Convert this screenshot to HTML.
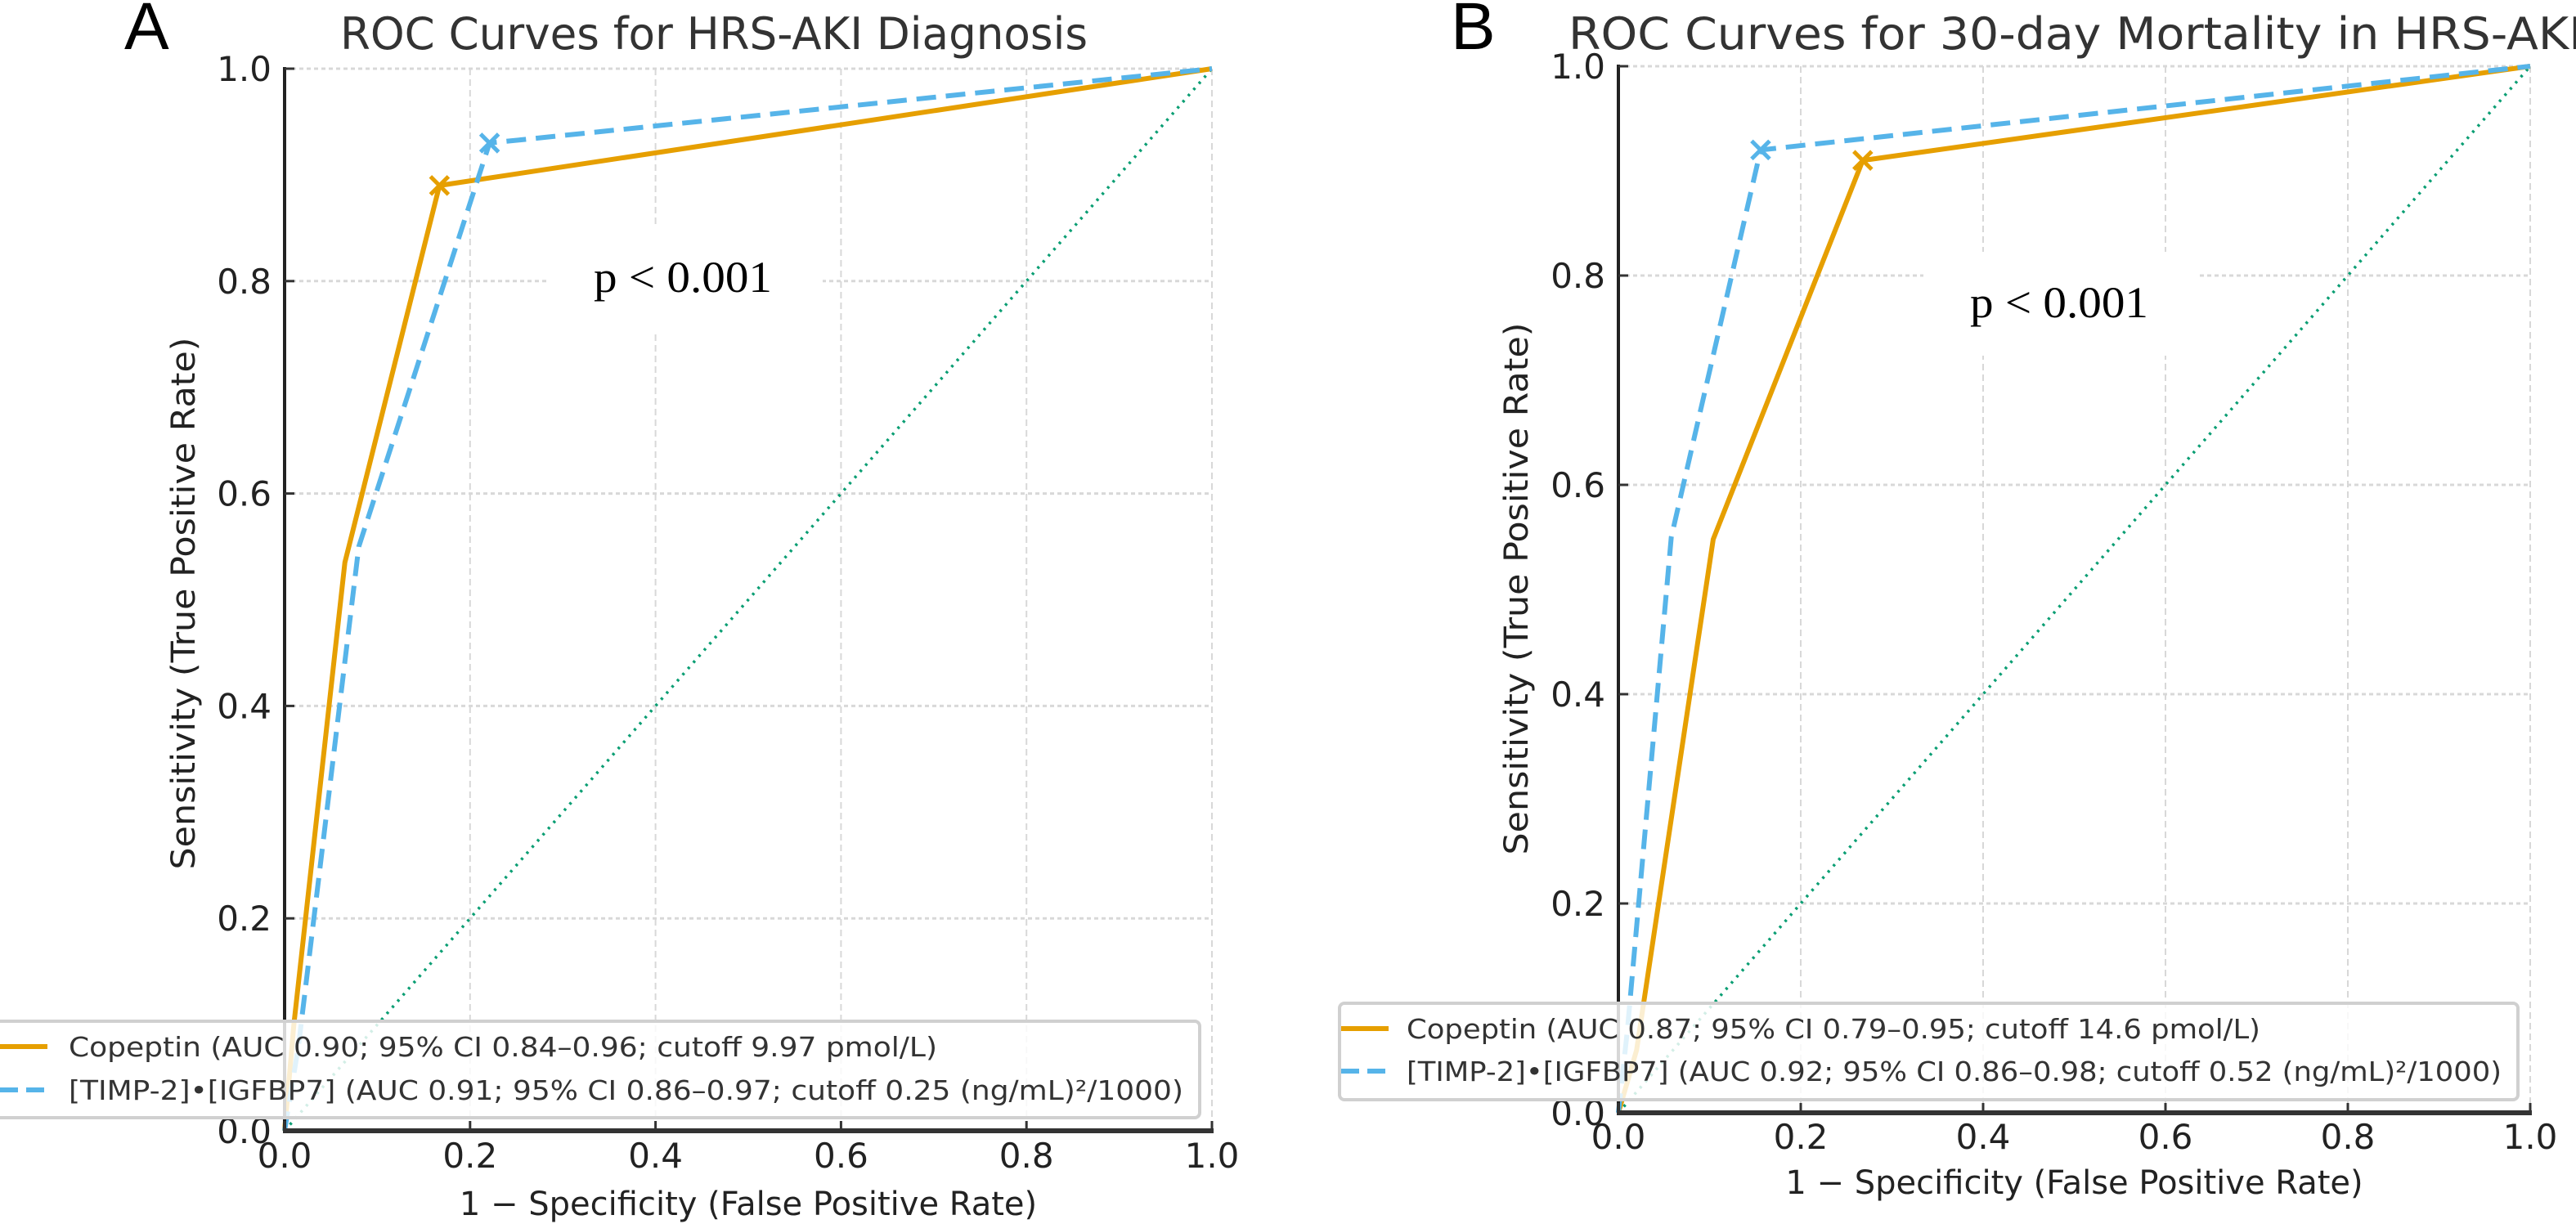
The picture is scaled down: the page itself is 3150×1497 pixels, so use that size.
<!DOCTYPE html>
<html><head><meta charset="utf-8"><style>
html,body{margin:0;padding:0;background:#fff;}
svg{display:block;}
text{font-family:"DejaVu Sans","Liberation Sans",sans-serif;}
</style></head><body>
<svg id="fig" width="3150" height="1497" viewBox="0 0 3150 1497" xmlns="http://www.w3.org/2000/svg">
<rect width="3150" height="1497" fill="#fff"/>
</svg>
<script>
// ---- data ----
const ticks = [0, 0.2, 0.4, 0.6, 0.8, 1.0];
const tickLabels = ["0.0", "0.2", "0.4", "0.6", "0.8", "1.0"];
const aCopeptinFpr = [0, 0.01, 0.065, 0.167, 1];
const aCopeptinTpr = [0, 0.10, 0.535, 0.89, 1];
const aTimpFpr = [0, 0.015, 0.08, 0.221, 1];
const aTimpTpr = [0, 0.08, 0.55, 0.93, 1];
const aCopeptinCut = [0.167, 0.89];
const aTimpCut = [0.221, 0.93];
const bCopeptinFpr = [0, 0.02, 0.104, 0.268, 1];
const bCopeptinTpr = [0, 0.06, 0.548, 0.91, 1];
const bTimpFpr = [0, 0.01, 0.058, 0.156, 1];
const bTimpTpr = [0, 0.08, 0.55, 0.92, 1];
const bCopeptinCut = [0.268, 0.91];
const bTimpCut = [0.156, 0.92];
const diagX = [0, 1];
const diagY = [0, 1];

const NS = "http://www.w3.org/2000/svg";
const svg = document.getElementById("fig");
function mk(tag, attrs, parent, txt) {
  const e = document.createElementNS(NS, tag);
  for (const k in attrs) e.setAttribute(k, attrs[k]);
  if (txt !== undefined) e.textContent = txt;
  (parent || svg).appendChild(e);
  return e;
}
const ORANGE = "#E69F00", BLUE = "#56B4E9", GREEN = "#0a9e73";

function panel(cfg) {
  const g = mk("g", {});
  
  
  const sx = v => cfg.x0 + v * (cfg.x1 - cfg.x0);
  const sy = v => cfg.y0 - v * (cfg.y0 - cfg.y1);
  // grid
  ticks.forEach((t, i) => {
    const gx = mk("line", {x1: sx(t), x2: sx(t), y1: cfg.y1, y2: cfg.y0, stroke: "#d8d8d8", "stroke-width": 2, "stroke-dasharray": "8,5"}, g);
    
    
    const gy = mk("line", {x1: cfg.x0, x2: cfg.x1, y1: sy(t), y2: sy(t), stroke: "#d8d8d8", "stroke-width": 3, "stroke-dasharray": "5,4"}, g);
    
    
  });
  // p-value box
  const pb = mk("rect", {x: cfg.pbox[0], y: cfg.pbox[1], width: cfg.pbox[2], height: cfg.pbox[3], fill: "#fff"}, g);
  
  
  const pt = mk("text", {x: cfg.ptext[0], y: cfg.ptext[1], "font-size": 54, fill: "#000", textLength: cfg.ptext[2], lengthAdjust: "spacingAndGlyphs", style: "font-family:'Liberation Serif',serif"}, g, "p < 0.001");
  
  
  // diagonal
  const dg = mk("line", {x1: sx(diagX[0]), y1: sy(diagY[0]), x2: sx(diagX[1]), y2: sy(diagY[1]), stroke: GREEN, "stroke-width": 3.5, "stroke-dasharray": "3,7"}, g);
  
  
  // series
  function series(xs, ys, color, dash, nm) {
    const pts = xs.map((x, i) => sx(x) + "," + sy(ys[i])).join(" ");
    const p = mk("polyline", {points: pts, fill: "none", stroke: color, "stroke-width": 6, "stroke-linejoin": "round", "stroke-dasharray": dash}, g);
    
    
  }
  function marker(pt, color, nm) {
    const cx = sx(pt[0]), cy = sy(pt[1]), r = 11;
    const m = mk("path", {d: `M${cx-r},${cy-r}L${cx+r},${cy+r}M${cx-r},${cy+r}L${cx+r},${cy-r}`, stroke: color, "stroke-width": 5}, g);
    
    
  }
  series(cfg.cF, cfg.cT, ORANGE, "none", "copeptin-roc-line");
  series(cfg.tF, cfg.tT, BLUE, "24,12", "timp-igfbp7-roc-line");
  marker(cfg.cC, ORANGE, "copeptin-cutoff-marker");
  marker(cfg.tC, BLUE, "timp-igfbp7-cutoff-marker");
  // spines
  const ls = mk("line", {x1: cfg.x0, x2: cfg.x0, y1: cfg.y1 - 2, y2: cfg.y0, stroke: "#222", "stroke-width": 4}, g);
  
  
  const bs = mk("line", {x1: cfg.x0 - 2, x2: cfg.x1 + 2, y1: cfg.y0, y2: cfg.y0, stroke: "#333", "stroke-width": 6}, g);
  
  
  // ticks
  ticks.forEach((t, i) => {
    const tx = mk("line", {x1: sx(t), x2: sx(t), y1: cfg.y0, y2: cfg.y0 - 12, stroke: "#333", "stroke-width": 3}, g);
    
    
    const ty = mk("line", {x1: cfg.x0, x2: cfg.x0 + 12, y1: sy(t), y2: sy(t), stroke: "#333", "stroke-width": 3}, g);
    
    
    const xl = mk("text", {x: sx(t), y: cfg.xlabY, "font-size": 42, fill: "#222", "text-anchor": "middle"}, g, tickLabels[i]);
    
    
    const yl = mk("text", {x: cfg.x0 - 16, y: sy(t) + 15, "font-size": 42, fill: "#222", "text-anchor": "end"}, g, tickLabels[i]);
    
    
  });
  // axis titles
  const xt = mk("text", {x: (cfg.x0 + cfg.x1) / 2, y: cfg.xtitleY, "font-size": 40, fill: "#222", "text-anchor": "middle"}, g, "1 − Specificity (False Positive Rate)");
  
  
  const yt = mk("text", {x: 0, y: 0, "font-size": 40, fill: "#222", "text-anchor": "middle", textLength: 651, lengthAdjust: "spacingAndGlyphs", transform: `translate(${cfg.ytitleX},${cfg.ytitleY}) rotate(-90)`}, g, "Sensitivity (True Positive Rate)");
  
  
  // title
  const tt = mk("text", {x: cfg.title[0], y: 60, "font-size": 54, fill: "#333", textLength: cfg.title[1], lengthAdjust: "spacingAndGlyphs"}, g, cfg.titleText);
  
  
  const pl = mk("text", {x: cfg.letter, y: 60, "font-size": 82, fill: "#000", style: "font-family:'Liberation Sans',sans-serif"}, g, cfg.letterText);
  
  
  // legend
  const L = cfg.leg;
  const lg = mk("g", {}, g);
  
  
  mk("rect", {x: L.x, y: L.y, width: L.w, height: L.h, rx: 6, fill: "#fff", "fill-opacity": 0.82, stroke: "#d0d0d0", "stroke-width": 4}, lg);
  const l1 = mk("line", {x1: L.sx, x2: L.sx + 58, y1: L.r1, y2: L.r1, stroke: ORANGE, "stroke-width": 6}, lg);
  
  
  const l2 = mk("line", {x1: L.sx, x2: L.sx + 58, y1: L.r2, y2: L.r2, stroke: BLUE, "stroke-width": 6, "stroke-dasharray": "22,10"}, lg);
  
  
  const t1 = mk("text", {x: L.tx, y: L.r1 + 12, "font-size": 33, fill: "#333", textLength: L.w1, lengthAdjust: "spacingAndGlyphs"}, lg, L.s1);
  
  
  const t2 = mk("text", {x: L.tx, y: L.r2 + 12, "font-size": 33, fill: "#333", textLength: L.w2, lengthAdjust: "spacingAndGlyphs"}, lg, L.s2);
  
  
}

panel({name: "panel-a", x0: 348, x1: 1482, y0: 1383, y1: 84,
  cF: aCopeptinFpr, cT: aCopeptinTpr, tF: aTimpFpr, tT: aTimpTpr, cC: aCopeptinCut, tC: aTimpCut,
  pbox: [669, 274, 337, 130], ptext: [726, 357, 218],
  xlabY: 1428, xtitleY: 1486, ytitleX: 238, ytitleY: 738,
  title: [416, 914], titleText: "ROC Curves for HRS-AKI Diagnosis", letter: 152, letterText: "A",
  leg: {x: -10, y: 1249, w: 1477, h: 118, sx: 0, tx: 84, r1: 1280, r2: 1333, w1: 1062, w2: 1363,
    s1: "Copeptin (AUC 0.90; 95% CI 0.84–0.96; cutoff 9.97 pmol/L)",
    s2: "[TIMP-2]•[IGFBP7] (AUC 0.91; 95% CI 0.86–0.97; cutoff 0.25 (ng/mL)²/1000)"}});

panel({name: "panel-b", x0: 1979, x1: 3094, y0: 1361, y1: 81,
  cF: bCopeptinFpr, cT: bCopeptinTpr, tF: bTimpFpr, tT: bTimpTpr, cC: bCopeptinCut, tC: bTimpCut,
  pbox: [2352, 308, 336, 127], ptext: [2409, 388, 218],
  xlabY: 1405, xtitleY: 1460, ytitleX: 1868, ytitleY: 720,
  title: [1918, 1240], titleText: "ROC Curves for 30-day Mortality in HRS-AKI", letter: 1774, letterText: "B",
  leg: {x: 1638, y: 1227, w: 1441, h: 118, sx: 1640, tx: 1720, r1: 1258, r2: 1310, w1: 1044, w2: 1339,
    s1: "Copeptin (AUC 0.87; 95% CI 0.79–0.95; cutoff 14.6 pmol/L)",
    s2: "[TIMP-2]•[IGFBP7] (AUC 0.92; 95% CI 0.86–0.98; cutoff 0.52 (ng/mL)²/1000)"}});
</script>
</body></html>
